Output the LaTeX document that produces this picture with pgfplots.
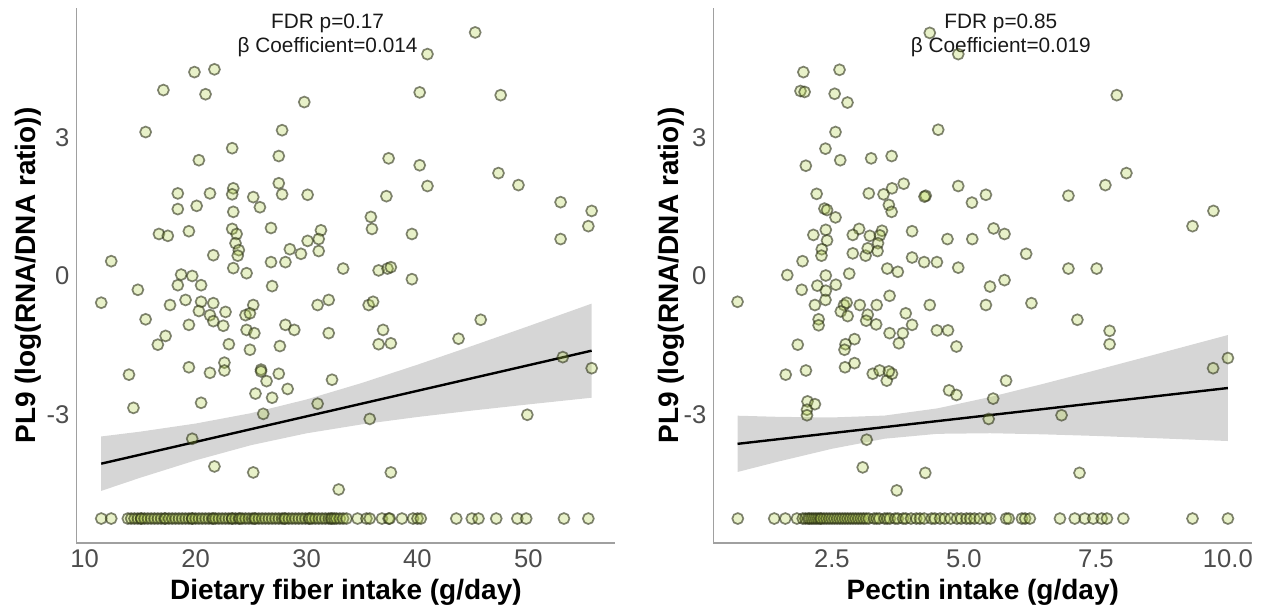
\documentclass[border=0pt]{standalone}
\usepackage{fontspec}
\setmainfont{Liberation Sans}
\usepackage{pgfplots}
\pgfplotsset{compat=1.18}
\definecolor{ptfill}{RGB}{180,210,75}
\definecolor{ptedge}{RGB}{40,45,20}
\definecolor{tickgray}{RGB}{77,77,77}
\definecolor{axgray}{RGB}{160,160,160}
\tikzset{ann/.style={anchor=base, font=\fontsize{10.4}{12}\selectfont, text=black!90}}
\pgfplotsset{
 panel/.style={
  scale only axis, width=269.4pt, height=267.5pt,
  axis x line=bottom, axis y line=left,
  axis line style={-, draw=axgray, line width=0.6pt},
  major tick length=0pt,
  ymin=-5.79, ymax=5.81,
  ytick={-3,0,3}, yticklabels={-3,0,3},
  tick label style={font=\fontsize{12.8}{14}\selectfont, text=tickgray},
  label style={font=\bfseries\fontsize{14}{16}\selectfont},
  ylabel={PL9 (log(RNA/DNA ratio))},
  xlabel style={at={(axis description cs:0.5,-0.1065)}, anchor=base},
  clip=false,
 },
 pts/.style={only marks, mark=*, mark size=2.75pt,
  mark options={fill=ptfill, fill opacity=0.3, draw=ptedge, draw opacity=0.58, line width=0.85pt}},
 band/.style={draw=none, fill=black!40, fill opacity=0.4},
 fit/.style={black, line width=1.2pt},
}
\begin{document}
\begin{tikzpicture}
\useasboundingbox (0,0) rectangle (633pt,305.5pt);
% ---------------- left panel ----------------
\begin{axis}[panel, at={(38.25pt,34pt)}, anchor=south west,
  xmin=9.27, xmax=57.83, xtick={10,20,30,40,50}, xticklabels={10,20,30,40,50},
  xlabel={Dietary fiber intake (g/day)},
  ylabel style={at={(axis description cs:-0.0755,0.5)}, anchor=base}]
\addplot[pts] table {
45.2 5.28
40.9 4.81
19.9 4.42
21.7 4.48
17.1 4.03
20.9 3.94
40.2 3.98
47.5 3.92
29.8 3.77
15.5 3.12
27.8 3.16
23.3 2.77
27.5 2.60
20.3 2.51
37.4 2.55
40.2 2.40
47.3 2.23
49.1 1.97
40.9 1.95
27.5 2.01
27.8 1.77
30.1 1.76
37.2 1.73
18.4 1.79
21.3 1.79
23.4 1.90
23.3 1.77
25.2 1.71
25.8 1.49
18.4 1.45
20.1 1.52
23.4 1.39
52.9 1.60
55.7 1.41
55.4 1.08
52.9 0.80
35.8 1.28
35.9 1.02
39.5 0.91
16.7 0.91
17.5 0.87
19.4 0.97
23.3 1.02
23.7 0.91
23.6 0.71
23.9 0.56
23.8 0.44
26.8 1.04
31.3 0.99
31.1 0.80
30.1 0.76
28.5 0.58
29.5 0.48
31.1 0.54
21.6 0.45
12.4 0.32
26.8 0.30
28.1 0.30
23.4 0.17
24.6 0.06
33.3 0.16
36.5 0.12
37.3 0.16
37.6 0.19
39.5 -0.07
18.7 0.03
19.7 0.00
18.4 -0.20
20.5 -0.20
14.8 -0.30
26.9 -0.22
11.5 -0.58
17.7 -0.63
19.1 -0.52
20.5 -0.56
21.6 -0.59
25.2 -0.63
31.0 -0.63
32.0 -0.52
35.6 -0.63
36.0 -0.56
20.3 -0.76
21.3 -0.85
22.7 -0.78
24.5 -0.85
24.9 -0.81
15.5 -0.94
21.6 -0.98
19.4 -1.06
22.5 -1.08
28.1 -1.06
28.9 -1.17
24.6 -1.17
25.3 -1.24
17.3 -1.30
32.0 -1.24
36.9 -1.17
45.7 -0.95
16.6 -1.49
23.0 -1.48
24.9 -1.60
27.6 -1.52
36.5 -1.48
37.6 -1.46
43.7 -1.36
53.1 -1.76
55.7 -2.00
22.6 -1.88
22.6 -2.05
19.4 -1.98
21.3 -2.10
25.9 -2.03
25.9 -2.07
26.4 -2.28
27.5 -2.12
28.3 -2.45
32.3 -2.25
14.0 -2.14
25.4 -2.55
26.9 -2.64
20.5 -2.75
31.0 -2.77
14.4 -2.86
26.1 -2.99
49.9 -3.01
35.7 -3.10
19.7 -3.53
21.7 -4.13
25.2 -4.26
37.6 -4.26
32.9 -4.63
};
\addplot[pts] table {
11.5 -5.26
12.4 -5.26
13.9 -5.26
14.2 -5.26
14.5 -5.26
14.8 -5.26
15.1 -5.26
15.1 -5.26
15.4 -5.26
15.7 -5.26
16.0 -5.26
16.3 -5.26
16.6 -5.26
16.9 -5.26
17.2 -5.26
17.3 -5.26
17.6 -5.26
17.9 -5.26
18.2 -5.26
18.5 -5.26
18.8 -5.26
19.1 -5.26
19.4 -5.26
19.7 -5.26
19.7 -5.26
20.0 -5.26
20.3 -5.26
20.6 -5.26
20.9 -5.26
21.2 -5.26
21.5 -5.26
21.6 -5.26
21.8 -5.26
22.1 -5.26
22.4 -5.26
22.7 -5.26
23.0 -5.26
23.3 -5.26
23.3 -5.26
23.6 -5.26
23.9 -5.26
24.0 -5.26
24.2 -5.26
24.5 -5.26
24.8 -5.26
25.1 -5.26
25.3 -5.26
25.4 -5.26
25.7 -5.26
26.0 -5.26
26.3 -5.26
26.6 -5.26
26.9 -5.26
27.2 -5.26
27.5 -5.26
27.8 -5.26
28.0 -5.26
28.1 -5.26
28.4 -5.26
28.7 -5.26
29.0 -5.26
29.3 -5.26
29.6 -5.26
29.9 -5.26
30.2 -5.26
30.3 -5.26
30.5 -5.26
30.8 -5.26
31.1 -5.26
31.4 -5.26
31.7 -5.26
32.0 -5.26
32.2 -5.26
32.3 -5.26
32.5 -5.26
32.7 -5.26
33.0 -5.26
33.3 -5.26
33.6 -5.26
34.6 -5.26
35.4 -5.26
35.7 -5.26
36.8 -5.26
37.4 -5.26
37.5 -5.26
38.6 -5.26
39.6 -5.26
40.0 -5.26
40.3 -5.26
43.5 -5.26
44.9 -5.26
45.5 -5.26
47.1 -5.26
49.0 -5.26
49.8 -5.26
53.2 -5.26
55.4 -5.26
};
\addplot[band] coordinates {(11.5,-3.480) (15,-3.376) (20,-3.200) (25,-2.975) (30,-2.678) (35,-2.319) (40,-1.924) (45,-1.511) (50,-1.089) (55.7,-0.600)
 (55.7,-2.640) (50,-2.785) (45,-2.917) (40,-3.058) (35,-3.217) (30,-3.412) (25,-3.669) (20,-3.998) (15,-4.376) (11.5,-4.660)} -- cycle;
\addplot[fit] coordinates {(11.5,-4.07) (55.7,-1.62)};
\node[ann] at (axis cs:31.9,5.368) {FDR p=0.17};
\node[ann] at (axis cs:31.9,4.848) {β Coefficient=0.014};
\end{axis}
% ---------------- right panel ----------------
\begin{axis}[panel, at={(356.7pt,34pt)}, anchor=south west,
  xmin=0.258, xmax=10.46, xtick={2.5,5,7.5,10}, xticklabels={2.5,5.0,7.5,10.0},
  xlabel={Pectin intake (g/day)},
  ylabel style={at={(axis description cs:-0.0657,0.5)}, anchor=base}]
\addplot[pts] table {
4.355 5.27
4.894 4.81
1.962 4.42
2.646 4.47
1.907 4.01
1.985 3.99
2.554 3.95
2.797 3.76
7.896 3.92
2.57 3.12
4.515 3.17
2.38 2.76
2.008 2.39
2.66 2.51
3.245 2.55
3.633 2.60
8.078 2.23
7.68 1.97
6.98 1.74
5.418 1.76
5.153 1.59
4.894 1.95
4.278 1.74
4.255 1.72
3.861 2.00
3.64 1.90
3.48 1.77
3.2 1.79
3.58 1.54
3.633 1.39
2.213 1.78
2.36 1.46
2.41 1.43
2.57 1.27
9.726 1.41
9.33 1.08
5.563 1.03
5.77 0.91
5.16 0.80
4.69 0.80
4.02 0.97
3.45 0.98
3.41 0.88
3.22 0.87
3.017 1.02
2.897 0.89
2.386 1.00
2.151 0.89
2.41 0.77
3.375 0.71
2.31 0.58
2.304 0.44
2.897 0.49
3.14 0.44
3.366 0.54
3.18 0.60
4.02 0.40
4.248 0.30
4.49 0.30
6.18 0.48
1.946 0.32
3.55 0.16
3.75 0.09
4.894 0.18
6.98 0.16
7.515 0.16
1.657 0.02
2.386 0.01
2.83 0.05
2.226 -0.21
2.577 -0.19
1.93 -0.30
2.386 -0.32
5.77 -0.09
5.495 -0.23
3.594 -0.43
0.715 -0.56
2.18 -0.63
2.38 -0.52
2.73 -0.63
2.78 -0.58
3.03 -0.63
3.35 -0.63
4.355 -0.63
5.418 -0.63
6.28 -0.59
2.67 -0.77
2.80 -0.87
2.25 -0.94
2.25 -1.07
3.18 -0.84
3.15 -0.97
3.34 -1.05
3.90 -0.81
4.02 -1.06
3.594 -1.24
3.845 -1.24
3.77 -1.46
4.49 -1.18
4.70 -1.18
4.86 -1.53
7.15 -0.95
7.76 -1.19
7.76 -1.48
1.855 -1.49
2.76 -1.48
2.74 -1.60
2.93 -1.37
1.627 -2.14
2.01 -2.05
2.75 -1.98
2.93 -1.89
3.275 -2.12
3.405 -2.05
3.54 -2.27
3.64 -2.12
3.58 -2.07
5.80 -2.27
4.72 -2.48
4.86 -2.58
5.555 -2.66
2.04 -2.72
2.18 -2.78
2.03 -2.90
2.03 -3.02
6.85 -3.02
5.47 -3.10
10.0 -1.78
9.72 -2.00
3.16 -3.55
3.085 -4.15
4.27 -4.27
7.19 -4.27
3.73 -4.65
};
\addplot[pts] table {
0.72 -5.26
1.41 -5.26
1.62 -5.26
1.84 -5.26
1.95 -5.26
2.00 -5.26
2.05 -5.26
2.08 -5.26
2.12 -5.26
2.16 -5.26
2.20 -5.26
2.24 -5.26
2.28 -5.26
2.30 -5.26
2.35 -5.26
2.40 -5.26
2.45 -5.26
2.50 -5.26
2.55 -5.26
2.60 -5.26
2.65 -5.26
2.70 -5.26
2.75 -5.26
2.80 -5.26
2.85 -5.26
2.90 -5.26
2.95 -5.26
3.00 -5.26
3.05 -5.26
3.10 -5.26
3.15 -5.26
3.20 -5.26
3.30 -5.26
3.35 -5.26
3.40 -5.26
3.50 -5.26
3.55 -5.26
3.60 -5.26
3.70 -5.26
3.75 -5.26
3.85 -5.26
3.90 -5.26
4.00 -5.26
4.10 -5.26
4.17 -5.26
4.25 -5.26
4.39 -5.26
4.45 -5.26
4.55 -5.26
4.64 -5.26
4.75 -5.26
4.87 -5.26
4.95 -5.26
5.05 -5.26
5.12 -5.26
5.20 -5.26
5.30 -5.26
5.43 -5.26
5.50 -5.26
5.80 -5.26
5.85 -5.26
6.10 -5.26
6.16 -5.26
6.25 -5.26
6.82 -5.26
7.10 -5.26
7.29 -5.26
7.45 -5.26
7.61 -5.26
7.71 -5.26
8.02 -5.26
9.33 -5.26
10.0 -5.26
};
\addplot[band] coordinates {(0.715,-3.030) (1.5,-3.055) (2.5,-3.068) (3.5,-3.027) (4.5,-2.871) (5.5,-2.624) (6.5,-2.340) (7.5,-2.043) (8.5,-1.740) (10,-1.281)
 (10,-3.579) (8.5,-3.512) (7.5,-3.469) (6.5,-3.434) (5.5,-3.410) (4.5,-3.423) (3.5,-3.529) (2.5,-3.748) (1.5,-4.021) (0.715,-4.250)} -- cycle;
\addplot[fit] coordinates {(0.715,-3.64) (10,-2.43)};
\node[ann] at (axis cs:5.70,5.368) {FDR p=0.85};
\node[ann] at (axis cs:5.70,4.848) {β Coefficient=0.019};
\end{axis}
\end{tikzpicture}
\end{document}
